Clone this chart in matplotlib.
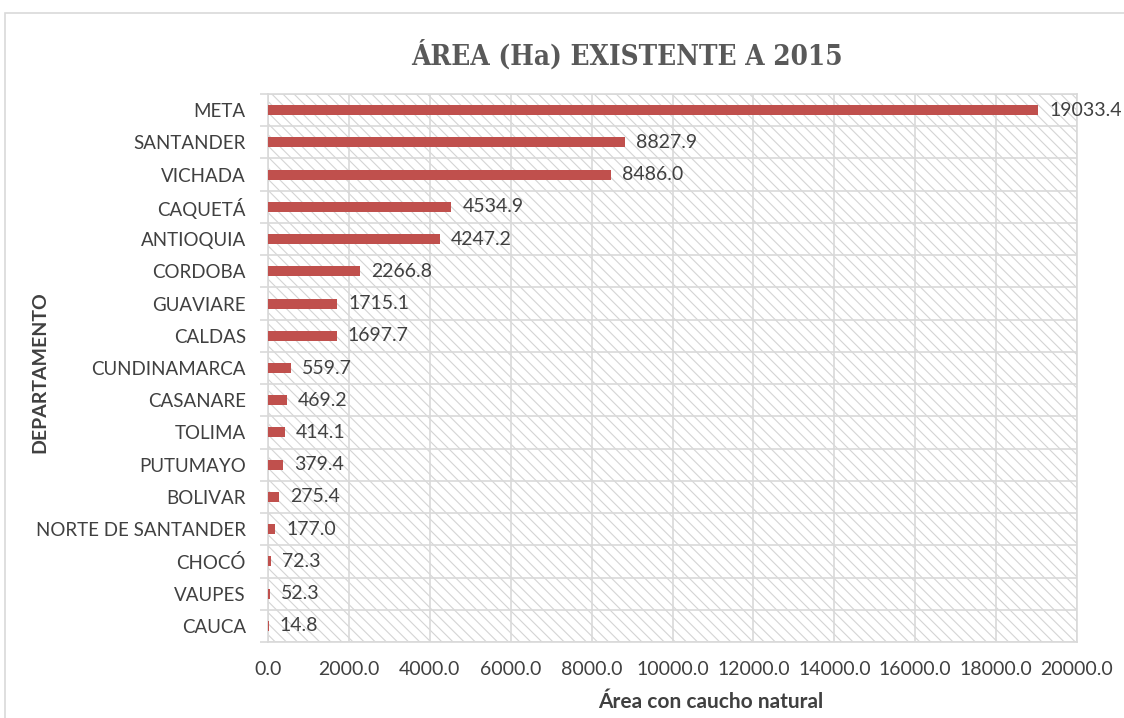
#!/usr/bin/env python3
"""Área (Ha) existente a 2015 por departamento - barras horizontales."""

import matplotlib
matplotlib.use("Agg")
import matplotlib.pyplot as plt
from matplotlib.patches import Rectangle

DEPARTAMENTOS = [
    "META", "SANTANDER", "VICHADA", "CAQUETÁ", "ANTIOQUIA", "CORDOBA",
    "GUAVIARE", "CALDAS", "CUNDINAMARCA", "CASANARE", "TOLIMA", "PUTUMAYO",
    "BOLIVAR", "NORTE DE SANTANDER", "CHOCÓ", "VAUPES", "CAUCA",
]
AREA_HA = [
    19033.4, 8827.9, 8486.0, 4534.9, 4247.2, 2266.8, 1715.1, 1697.7,
    559.7, 469.2, 414.1, 379.4, 275.4, 177.0, 72.3, 52.3, 14.8,
]
X_TICKS = list(range(0, 20001, 2000))

BAR_COLOR = "#C0504D"
TEXT_COLOR = "#404040"
GRID_COLOR = "#D9D9D9"
HATCH_COLOR = "#D4D4D4"

plt.rcParams["hatch.linewidth"] = 0.8

fig = plt.figure(figsize=(11.24, 7.18), dpi=100)
ax = fig.add_axes([268 / 1124, 1 - 642 / 718, (1077 - 268) / 1124, (642 - 94) / 718])

# marco exterior del gráfico
fig.patches.append(Rectangle((5 / 1124, -0.05), 1.2, 1 - 13 / 718 + 0.05,
                             transform=fig.transFigure, fill=False,
                             edgecolor="#D9D9D9", linewidth=1.2))

n = len(DEPARTAMENTOS)
ypos = list(range(n))

# fondo rayado
ax.add_patch(Rectangle((0, 0), 1, 1, transform=ax.transAxes, facecolor="white",
                       hatch="\\\\\\", edgecolor=HATCH_COLOR, linewidth=0,
                       zorder=0))

ax.barh(ypos, AREA_HA, height=0.31, color=BAR_COLOR, zorder=3)
for y, v in zip(ypos, AREA_HA):
    ax.annotate(f"{v:.1f}", xy=(v, y), xytext=(8, 0), textcoords="offset points",
                va="center", ha="left", fontsize=14, color=TEXT_COLOR,
                family="Lato", zorder=4)

ax.set_xlim(0, 20000)
ax.set_ylim(n - 0.5, -0.5)
ax.set_xticks(X_TICKS)
ax.set_xticklabels([f"{t:.1f}" for t in X_TICKS], fontsize=14, color=TEXT_COLOR,
                   family="Lato")
ax.set_yticks(ypos)
ax.set_yticklabels(DEPARTAMENTOS, fontsize=13.5, color=TEXT_COLOR, family="Lato")
ax.set_yticks([i - 0.5 for i in range(n + 1)], minor=True)

ax.tick_params(axis="x", length=0, pad=14)
ax.tick_params(axis="y", which="major", length=0, pad=16)
ax.tick_params(axis="y", which="minor", length=6, color=GRID_COLOR, width=1.2)

ax.grid(True, axis="x", which="major", color=GRID_COLOR, linewidth=1.2, zorder=1)
ax.grid(True, axis="y", which="minor", color=GRID_COLOR, linewidth=1.2, zorder=1)
ax.set_axisbelow(True)
for side in ("top", "right", "bottom", "left"):
    ax.spines[side].set_color(GRID_COLOR)
    ax.spines[side].set_linewidth(1.2)

fig.text(627 / 1124, 1 - 55 / 718, "ÁREA (Ha) EXISTENTE A 2015", ha="center",
         va="center", fontsize=20, fontweight="bold", color="#595959",
         family="DejaVu Serif", fontstretch="condensed")
fig.text(711 / 1124, 1 - 702 / 718, "Área con caucho natural", ha="center",
         va="center", fontsize=15, fontweight="bold", color=TEXT_COLOR, family="Lato")
fig.text(40 / 1124, 1 - 372 / 718, "DEPARTAMENTO", ha="center", va="center",
         rotation=90, fontsize=14, fontweight="bold", color=TEXT_COLOR, family="Lato")

fig.savefig("out.png", dpi=100)
